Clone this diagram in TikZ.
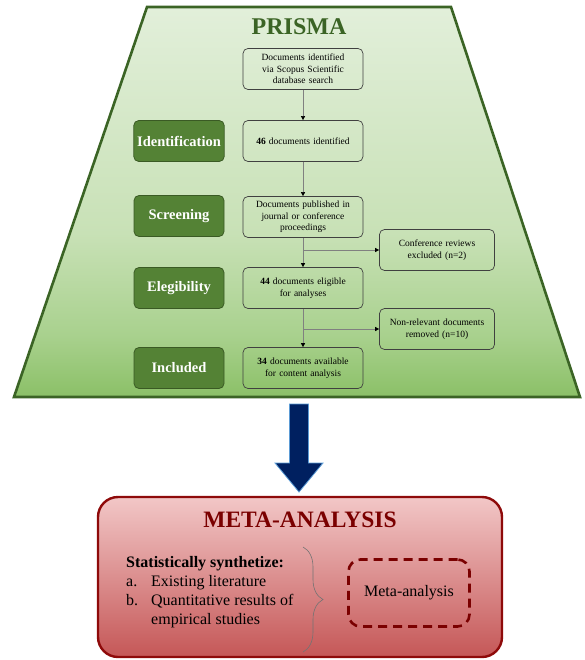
\documentclass[tikz,border=0pt]{standalone}
\usepackage{fontspec}
\setmainfont{Liberation Serif}
\usepackage{xcolor}
\usetikzlibrary{arrows.meta,positioning,calc,decorations.pathreplacing}
\definecolor{prismadark}{HTML}{3B6425}
\definecolor{stagefill}{HTML}{548235}
\definecolor{stagedark}{HTML}{3A5A24}
\definecolor{metared}{HTML}{8E0A0A}
\definecolor{metatext}{HTML}{7A0000}
\definecolor{metatop}{HTML}{F2C7C7}
\definecolor{metabot}{HTML}{C55757}
\definecolor{navy}{HTML}{002060}
\definecolor{arrowedge}{HTML}{5B9BD5}
\definecolor{gtop}{HTML}{E2EFDA}
\definecolor{gmid}{HTML}{C8E1B6}
\definecolor{glow}{HTML}{A9D18E}
\definecolor{gbot}{HTML}{8BC067}
\pgfdeclareverticalshading{prismashade}{100bp}{color(0bp)=(gbot); color(25bp)=(gbot); color(33bp)=(glow); color(46bp)=(gmid); color(75bp)=(gtop); color(100bp)=(gtop)}
\tikzset{
  flowbox/.style={rectangle, rounded corners=5pt, draw=black!75, line width=0.7pt, align=center,
                  text width=114pt, minimum width=120pt, minimum height=41pt,
                  font=\fontsize{9.5}{11.5}\selectfont, inner sep=2pt},
  sidebox/.style={flowbox, text width=110pt, minimum width=115pt},
  stage/.style={rectangle, rounded corners=5pt, draw=stagedark, line width=0.8pt, fill=stagefill,
                text=white, font=\fontsize{14.5}{16}\selectfont\bfseries,
                minimum width=90pt, minimum height=41pt},
  arr/.style={-{Triangle[length=4pt,width=4pt,color=black]}, black!50, line width=0.6pt},
}

\begin{document}
\begin{tikzpicture}[x=1pt, y=-1pt]
\useasboundingbox (0,0) rectangle (585,660);
% PRISMA trapezoid
\path[draw=prismadark, line width=2.6pt, line join=miter, shading=prismashade]
  (147,7) -- (451,7) -- (580,397) -- (14,397) -- cycle;
\node[font=\fontsize{24}{26}\selectfont\bfseries, text=prismadark] (prisma) at (299,27) {PRISMA};

% flow boxes
\node[flowbox] (search) at (303,69) {Documents identified\\via Scopus Scientific\\database search};
\node[flowbox] (ident) at (303,141) {\textbf{46} documents identified};
\node[flowbox] (journal) at (303,217) {Documents published in\\journal or conference\\proceedings};
\node[flowbox] (elig) at (303,288) {\textbf{44} documents eligible\\for analyses};
\node[flowbox] (incl) at (303,368) {\textbf{34} documents available\\for content analysis};
\node[sidebox] (confrev) at (437,250) {Conference reviews\\excluded (n=2)};
\node[sidebox] (nonrel) at (437,329) {Non-relevant documents\\removed (n=10)};

% stages
\node[stage] (sident) at (179,141) {Identification};
\node[stage] (sscreen) at (179,216) {Screening};
\node[stage] (selig) at (179,288) {Elegibility};
\node[stage] (sincl) at (179,368) {Included};

% arrows
\draw[arr] (search) -- (ident);
\draw[arr] (ident) -- (journal);
\draw[arr] (journal) -- (elig);
\draw[arr] (elig) -- (incl);
\draw[arr] (journal.south |- confrev.west) -- (confrev.west);
\draw[arr] (elig.south |- nonrel.west) -- (nonrel.west);

% block arrow
\draw[fill=navy, draw=arrowedge, line width=0.8pt]
  (289.5,404) -- (308.5,404) -- (308.5,463) -- (323,463) -- (299,492) -- (275,463) -- (289.5,463) -- cycle;

% meta-analysis box
\node[rectangle, rounded corners=20pt, draw=metared, line width=2.4pt, top color=metatop, bottom color=metabot,
      minimum width=404pt, minimum height=160pt] (meta) at (300,577) {};
\node[font=\fontsize{23.5}{26}\selectfont\bfseries, text=metatext] (metatitle) at (300,520) {META-ANALYSIS};
\node[anchor=west, font=\fontsize{16}{19}\selectfont, inner sep=0pt] (synth) at (126,592)
  {\begin{tabular}{@{}p{25pt}@{}l@{}}
   \multicolumn{2}{@{}l@{}}{\textbf{Statistically synthetize:}}\\
   a. & Existing literature\\
   b. & Quantitative results of\\
      & empirical studies
   \end{tabular}};
\coordinate (bracetop) at (303,547);
\coordinate (bracebot) at (303,652);
\draw[decorate, decoration={brace, amplitude=20pt}, black!55, line width=0.6pt] (bracetop) -- (bracebot);
\node[rectangle, rounded corners=12pt, draw=metatext, line width=2.6pt, dash pattern=on 9pt off 6pt,
      minimum width=121pt, minimum height=67pt, font=\fontsize{16}{19}\selectfont] (metabox) at (409,593) {Meta-analysis};
\end{tikzpicture}
\end{document}
